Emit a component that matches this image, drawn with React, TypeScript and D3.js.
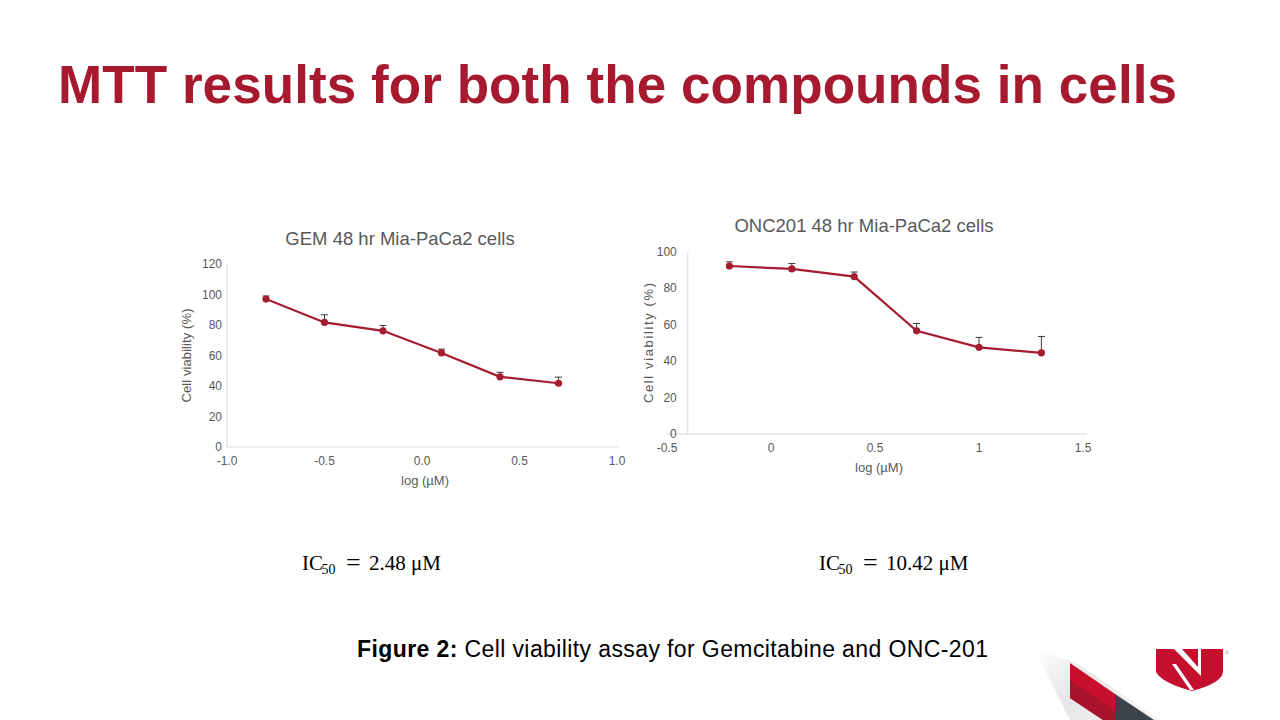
import React from "react";
import * as d3 from "d3";

const gemLogDose = [-0.8, -0.5, -0.2, 0.1, 0.4, 0.7];
const gemViability = [97, 81.7, 76.2, 61.7, 46, 41.8];
const gemError = [2, 5, 3.5, 2.5, 3, 4];
const gemXTicks = [-1.0, -0.5, 0.0, 0.5, 1.0];
const gemYTicks = [0, 20, 40, 60, 80, 100, 120];

const oncLogDose = [-0.2, 0.1, 0.4, 0.7, 1.0, 1.3];
const oncViability = [92.3, 90.7, 86.5, 56.7, 47.6, 44.6];
const oncError = [2.3, 3, 2.5, 4, 5.5, 9];
const oncXTicks = [-0.5, 0, 0.5, 1, 1.5];
const oncYTicks = [0, 20, 40, 60, 80, 100];

const RED = "#a6192e";
const SERIES = "#a51c30";
const TXT = "#595959";
const AXIS = "#d9d9d9";

const hyphen = (s: string) => s.replace("\u2212", "-");

type PanelProps = {
  title: string;
  titleX: number;
  titleY: number;
  xs: number[];
  ys: number[];
  errs: number[];
  xTicks: number[];
  yTicks: number[];
  xFmt: (v: number) => string;
  x: d3.ScaleLinear<number, number>;
  y: d3.ScaleLinear<number, number>;
  yAxisAt: number;
  xAxisEnd: number;
  yLabelX: number;
  yLabelLen: number;
  xTickY: number;
  xLabelY: number;
  yTickGap: number;
};

function Panel(p: PanelProps) {
  const pts = p.xs.map((v, i) => [v, p.ys[i]] as [number, number]);
  const line = d3
    .line<[number, number]>()
    .x((d) => p.x(d[0]))
    .y((d) => p.y(d[1]));
  const ax = p.x(p.yAxisAt);
  const [d0] = p.x.domain();
  const y0 = p.y(0);
  const yTop = p.y(p.yTicks[p.yTicks.length - 1]);
  const yMid = (y0 + yTop) / 2;
  const xMid = (p.x(d0) + p.xAxisEnd) / 2;
  return (
    <g fontFamily="'Liberation Sans', Arial, sans-serif">
      <text x={p.titleX} y={p.titleY} textAnchor="middle" dominantBaseline="central" fontSize={18.5} fill={TXT}>
        {p.title}
      </text>
      <line x1={ax} x2={ax} y1={yTop} y2={y0} stroke={AXIS} strokeWidth={1} />
      <line x1={p.x(d0)} x2={p.xAxisEnd} y1={y0} y2={y0} stroke={AXIS} strokeWidth={1} />
      {p.yTicks.map((t) => (
        <text key={"y" + t} x={ax - p.yTickGap} y={p.y(t)} textAnchor="end" dominantBaseline="central" fontSize={12} fill={TXT}>
          {t}
        </text>
      ))}
      {p.xTicks.map((t) => (
        <text key={"x" + t} x={p.x(t)} y={p.xTickY} textAnchor="middle" dominantBaseline="central" fontSize={12} fill={TXT}>
          {p.xFmt(t)}
        </text>
      ))}
      <text
        transform={`translate(${p.yLabelX},${yMid}) rotate(-90)`}
        textAnchor="middle"
        dominantBaseline="central"
        fontSize={13}
        fill={TXT}
        textLength={p.yLabelLen}
        lengthAdjust="spacing"
      >
        Cell viability (%)
      </text>
      <text x={xMid + 2} y={p.xLabelY} textAnchor="middle" dominantBaseline="central" fontSize={13} fill={TXT}>
        log (µM)
      </text>
      {pts.map((d, i) => {
        const cx = p.x(d[0]);
        const top = p.y(d[1] + p.errs[i]);
        return (
          <g key={"e" + i} stroke="#3a3a3a" strokeWidth={1}>
            <line x1={cx} x2={cx} y1={p.y(d[1])} y2={top} />
            <line x1={cx - 3.5} x2={cx + 3.5} y1={top} y2={top} />
          </g>
        );
      })}
      <path d={line(pts) || ""} fill="none" stroke={SERIES} strokeWidth={2.2} />
      {pts.map((d, i) => (
        <circle key={"c" + i} cx={p.x(d[0])} cy={p.y(d[1])} r={3.6} fill={SERIES} />
      ))}
    </g>
  );
}

function IC50({ x, value }: { x: number; value: string }) {
  return (
    <g fontFamily="'Liberation Serif', 'DejaVu Serif', serif" fill="#000">
      <text x={x} y={570} fontSize={21}>IC</text>
      <text x={x + 19.5} y={574} fontSize={14}>50</text>
      <text x={x + 44} y={571} fontSize={26}>=</text>
      <text x={x + 67} y={570} fontSize={21}>{value} μM</text>
    </g>
  );
}

export default function App() {
  const gx = d3.scaleLinear().domain([-1, 1]).range([227, 617]);
  const gy = d3.scaleLinear().domain([0, 120]).range([447, 264]);
  const ox = d3.scaleLinear().domain([-0.5, 1.5]).range([667, 1083]);
  const oy = d3.scaleLinear().domain([0, 100]).range([434, 252]);
  const f1 = d3.format(".1f");

  return (
    <div style={{ position: "fixed", left: 0, top: 0, width: 1280, height: 720 }}>
      <svg width={1280} height={720} viewBox="0 0 1280 720" style={{ display: "block", background: "#fff" }}>
        <defs>
          <linearGradient id="shade" x1="0" y1="0" x2="1" y2="0.6">
            <stop offset="0" stopColor="#ffffff" />
            <stop offset="0.5" stopColor="#e6e6e6" />
            <stop offset="1" stopColor="#f4f4f4" />
          </linearGradient>
        </defs>
        <rect x={0} y={0} width={1280} height={720} fill="#fff" />
        <text
          x={58}
          y={103}
          fontFamily="'Liberation Sans', Arial, sans-serif"
          fontWeight="bold"
          fontSize={53}
          fill={RED}
          textLength={1119}
          lengthAdjust="spacing"
        >
          MTT results for both the compounds  in cells
        </text>

        <Panel
          title="GEM 48 hr Mia-PaCa2 cells"
          titleX={400}
          titleY={238}
          xs={gemLogDose}
          ys={gemViability}
          errs={gemError}
          xTicks={gemXTicks}
          yTicks={gemYTicks}
          xFmt={(v) => hyphen(f1(v))}
          x={gx}
          y={gy}
          yAxisAt={-1}
          xAxisEnd={619}
          yLabelX={186}
          yLabelLen={94}
          xTickY={461}
          xLabelY={480}
          yTickGap={5}
        />
        <Panel
          title="ONC201 48 hr Mia-PaCa2 cells"
          titleX={864}
          titleY={225}
          xs={oncLogDose}
          ys={oncViability}
          errs={oncError}
          xTicks={oncXTicks}
          yTicks={oncYTicks}
          xFmt={(v) => String(v)}
          x={ox}
          y={oy}
          yAxisAt={-0.4}
          xAxisEnd={1087}
          yLabelX={648}
          yLabelLen={120}
          xTickY={448}
          xLabelY={467}
          yTickGap={11}
        />

        <IC50 x={302} value="2.48" />
        <IC50 x={819} value="10.42" />

        <text x={357} y={657} fontFamily="'Liberation Sans', Arial, sans-serif" fontSize={23} fill="#000" textLength={631} lengthAdjust="spacing">
          <tspan fontWeight="bold">Figure 2:</tspan> Cell viability assay for Gemcitabine and ONC-201
        </text>

        {/* decorative corner */}
        <polygon points="1035,650 1075,662 1160,720 1070,720" fill="url(#shade)" />
        <polygon points="1070,663 1115,694 1115,720 1103,720 1070,698" fill="#c8102e" />
        <polygon points="1070,680 1115,711 1115,720 1103,720 1070,698" fill="#a8142c" />
        <polygon points="1115,694 1154,720 1115,720" fill="#3d4449" />

        {/* shield logo */}
        <path d="M1156,649 L1223,649 L1223,672 Q1222,683 1192,691 Q1162,683 1156,672 Z" fill="#c4102e" />
        <polygon points="1174,649 1182,649 1198,667 1198,649 1201,649 1201,676" fill="#fff" />
        <polygon points="1172,664 1176,664 1194,690 1190,690" fill="#fff" />
        <text x={1225} y={655} fontSize={5} fill="#999" fontFamily="sans-serif">®</text>
      </svg>
    </div>
  );
}
